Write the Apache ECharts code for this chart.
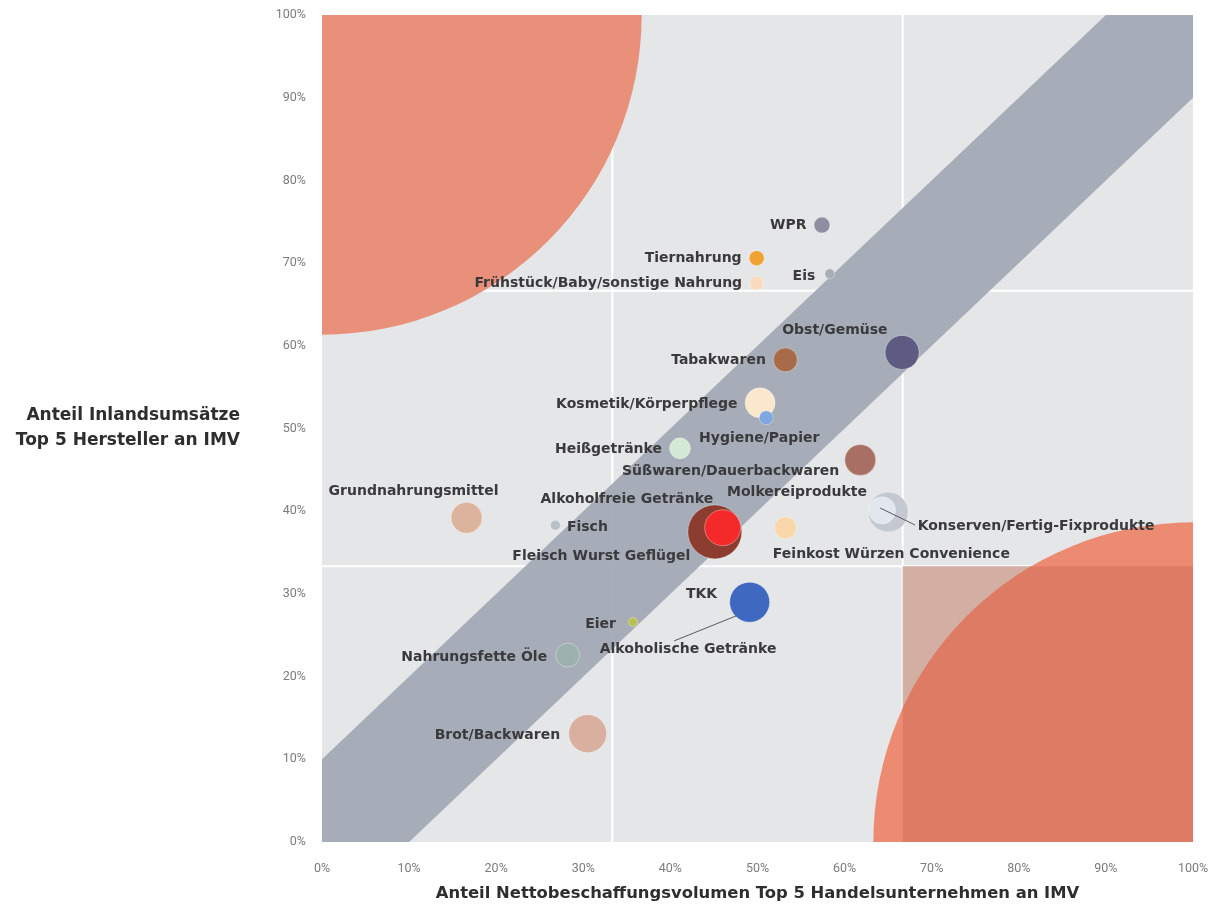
<!DOCTYPE html>
<html>
<head>
<meta charset="utf-8">
<script src="https://cdn.jsdelivr.net/npm/echarts@6/dist/echarts.min.js"></script>
<style>
  html, body { margin: 0; background: #fff; }
  #main { width: 1227px; height: 917px; }
</style>
</head>
<body>
<div id="main"></div>
<script>
// Warengruppen: Anteil Top 5 Handel (x) vs. Anteil Top 5 Hersteller (y), Blasengröße = Volumen
var names = [
  'WPR', 'Tiernahrung', 'Frühstück/Baby/sonstige Nahrung', 'Eis', 'Obst/Gemüse',
  'Tabakwaren', 'Kosmetik/Körperpflege', 'Hygiene/Papier', 'Heißgetränke',
  'Süßwaren/Dauerbackwaren', 'Feinkost Würzen Convenience', 'Grundnahrungsmittel',
  'Fisch', 'Fleisch Wurst Geflügel', 'Alkoholfreie Getränke', 'TKK', 'Eier',
  'Nahrungsfette Öle', 'Brot/Backwaren', 'Molkereiprodukte'
];
var shareHandel = [57.4, 49.9, 49.9, 58.3, 66.6, 53.2, 50.3, 51.0, 41.1, 61.8, 53.2, 16.6, 26.8, 45.1, 46.0, 49.1, 35.7, 28.2, 30.5, 64.3];
var shareHersteller = [74.6, 70.6, 67.6, 68.7, 59.2, 58.3, 53.1, 51.3, 47.6, 46.2, 38.0, 39.2, 38.3, 37.5, 38.0, 29.0, 26.6, 22.6, 13.1, 40.1];
var volume = [16, 15, 14, 10, 34, 24, 30, 14, 21, 31, 22, 31, 10, 54, 36, 40, 9, 24, 38, 27];

// Gruppen mit Hinweislinie zur Beschriftung
var leaderNames = ['Alkoholische Getränke', 'Konserven/Fertig-Fixprodukte'];
var leaderHandel = [48.0, 65.0];
var leaderHersteller = [27.7, 39.9];
var leaderVolume = [6, 40];

var thirds = [100 / 3, 200 / 3];
var bandHalf = 10;       // Korridor um die Diagonale
var cornerRadius = 36.7; // Viertelkreise in den Ecken, in x-Einheiten

var colors = {
  'WPR': '#8e8ea2', 'Tiernahrung': '#f0a232', 'Frühstück/Baby/sonstige Nahrung': '#f9dcc0',
  'Eis': '#a9adb6', 'Obst/Gemüse': '#5d5b82', 'Tabakwaren': '#a86b4a',
  'Kosmetik/Körperpflege': '#fbe8cc', 'Hygiene/Papier': '#80a7e0', 'Heißgetränke': '#d5ead6',
  'Süßwaren/Dauerbackwaren': '#a87064', 'Feinkost Würzen Convenience': '#f8d7ab',
  'Grundnahrungsmittel': '#dcb49e', 'Fisch': '#b8c0cc', 'Fleisch Wurst Geflügel': '#8c3d30',
  'Alkoholfreie Getränke': '#f42a2a', 'TKK': '#3f68c0', 'Eier': '#b8c24a',
  'Nahrungsfette Öle': '#9db2ae', 'Brot/Backwaren': '#d9af9f', 'Molkereiprodukte': '#e2e6ed',
  'Alkoholische Getränke': '#6e5b86', 'Konserven/Fertig-Fixprodukte': '#c4c8d2'
};

var labelPlace = {
  'WPR': ['left', [-2, 0]],
  'Tiernahrung': ['left', [-2, 0]],
  'Frühstück/Baby/sonstige Nahrung': ['left', [-2, 0]],
  'Eis': ['left', [-4, 3]],
  'Obst/Gemüse': ['left', [8, -22]],
  'Tabakwaren': ['left', [-2, 1]],
  'Kosmetik/Körperpflege': ['left', [-2, 1]],
  'Hygiene/Papier': ['bottom', [-7, 1]],
  'Heißgetränke': ['left', [-2, 1]],
  'Süßwaren/Dauerbackwaren': ['left', [0, 11]],
  'Feinkost Würzen Convenience': ['bottom', [106, 3]],
  'Grundnahrungsmittel': ['top', [-53, 2]],
  'Fisch': ['right', [1, 2]],
  'Fleisch Wurst Geflügel': ['left', [8, 24]],
  'Alkoholfreie Getränke': ['left', [14, -28]],
  'TKK': ['left', [-7, -8]],
  'Eier': ['left', [-7, 2]],
  'Nahrungsfette Öle': ['left', [-3, 2]],
  'Brot/Backwaren': ['left', [-3, 2]],
  'Molkereiprodukte': ['top', [-85, 8]],
  'Alkoholische Getränke': ['bottom', [-52, 21]],
  'Konserven/Fertig-Fixprodukte': ['right', [4, 14]]
};
// Hinweislinien: Start- und Endversatz (px) relativ zum Datenpunkt
var leaderLine = [[[-4, 3], [-66, 28]], [[-8, -4], [27, 13]]];

var labelFont = { color: '#3a3a3c', fontWeight: 'bold', fontSize: 14, fontFamily: 'DejaVu Sans' };
var tickFont = { color: '#7c7c7c', fontSize: 12.5, fontFamily: 'Roboto' };
var titleFont = { color: '#2e2e30', fontWeight: 'bold', fontSize: 16.4, fontFamily: 'DejaVu Sans' };

function renderBackdrop(params, api) {
  var c = function (d) { return api.coord(d); };
  var R = api.size([cornerRadius, 0])[0];
  var children = [];

  thirds.forEach(function (t) {
    var a = c([t, 0]), b = c([t, 100]);
    children.push({ type: 'line', shape: { x1: a[0], y1: a[1], x2: b[0], y2: b[1] }, style: { stroke: '#ffffff', lineWidth: 2 } });
    a = c([0, t]); b = c([100, t]);
    children.push({ type: 'line', shape: { x1: a[0], y1: a[1], x2: b[0], y2: b[1] }, style: { stroke: '#ffffff', lineWidth: 2 } });
  });

  var band = [[0, 0], [0, bandHalf], [100 - bandHalf, 100], [100, 100], [100, 100 - bandHalf], [bandHalf, 0]].map(c);
  children.push({ type: 'polygon', shape: { points: band }, style: { fill: '#a3aab6', opacity: 0.96 } });

  var tl = c([0, 100]);
  children.push({ type: 'sector', shape: { cx: tl[0], cy: tl[1], r0: 0, r: R, startAngle: 0, endAngle: Math.PI / 2 }, style: { fill: '#e8907a' } });

  var cell = c([thirds[1], thirds[0]]);
  var br = c([100, 0]);
  children.push({ type: 'rect', shape: { x: cell[0], y: cell[1], width: br[0] - cell[0], height: br[1] - cell[1] }, style: { fill: '#d3aea2' } });
  children.push({ type: 'sector', shape: { cx: br[0], cy: br[1], r0: 0, r: R, startAngle: Math.PI, endAngle: Math.PI * 1.5 }, style: { fill: '#ec8b72' } });

  // dunklerer Teil des Kreises innerhalb der Ecke
  var dx1 = cell[0] - br[0];
  var dy2 = cell[1] - br[1];
  var t1 = Math.atan2(-Math.sqrt(Math.max(R * R - dx1 * dx1, 0)), dx1);
  var t2 = Math.atan2(dy2, -Math.sqrt(Math.max(R * R - dy2 * dy2, 0)));
  var pts = [[br[0], br[1]], [cell[0], br[1]]];
  for (var i = 0; i <= 40; i++) {
    var t = t1 + (t2 - t1) * i / 40;
    pts.push([br[0] + R * Math.cos(t), br[1] + R * Math.sin(t)]);
  }
  pts.push([br[0], cell[1]]);
  children.push({ type: 'polygon', shape: { points: pts }, style: { fill: '#de7b65' } });

  return { type: 'group', children: children };
}

function renderLeader(params, api) {
  var p = api.coord([api.value(0), api.value(1)]);
  var seg = leaderLine[params.dataIndex];
  return {
    type: 'line',
    shape: { x1: p[0] + seg[0][0], y1: p[1] + seg[0][1], x2: p[0] + seg[1][0], y2: p[1] + seg[1][1] },
    style: { stroke: '#4a4a4c', lineWidth: 0.9 }
  };
}

function toItem(n, x, y, v) {
  var lp = labelPlace[n];
  return {
    name: n,
    value: [x, y, v],
    itemStyle: { color: colors[n] },
    label: { position: lp[0], offset: lp[1] }
  };
}

var mainData = names.map(function (n, i) { return toItem(n, shareHandel[i], shareHersteller[i], volume[i]); });
var leaderData = leaderNames.map(function (n, i) { return toItem(n, leaderHandel[i], leaderHersteller[i], leaderVolume[i]); });

var bubbleStyle = { opacity: 1, borderColor: 'rgba(255,255,255,0.35)', borderWidth: 1 };

var chart = echarts.init(document.getElementById('main'));
chart.setOption({
  backgroundColor: '#ffffff',
  animation: false,
  grid: {
    left: 322, right: 34, top: 15, bottom: 75,
    show: true, backgroundColor: '#e5e6e8', borderWidth: 0
  },
  xAxis: {
    type: 'value', min: 0, max: 100, interval: 10,
    name: 'Anteil Nettobeschaffungsvolumen Top 5 Handelsunternehmen an IMV',
    nameLocation: 'middle', nameGap: 44,
    nameTextStyle: titleFont,
    axisLine: { show: false }, axisTick: { show: false }, splitLine: { show: false },
    axisLabel: Object.assign({ formatter: '{value}%', margin: 20 }, tickFont)
  },
  yAxis: {
    type: 'value', min: 0, max: 100, interval: 10,
    name: 'Anteil Inlandsumsätze\nTop 5 Hersteller an IMV',
    nameLocation: 'middle', nameGap: 82, nameRotate: 0,
    nameTextStyle: Object.assign({ align: 'right', lineHeight: 25, padding: [18, 0, 0, 0] }, titleFont, { fontSize: 17 }),
    axisLine: { show: false }, axisTick: { show: false }, splitLine: { show: false },
    axisLabel: Object.assign({ formatter: '{value}%', margin: 16 }, tickFont)
  },
  series: [
    {
      type: 'custom', name: 'Hintergrund', silent: true, z: 1,
      renderItem: renderBackdrop,
      data: [[0, 0]]
    },
    {
      type: 'scatter', name: 'Hinweis', z: 2,
      symbolSize: function (v) { return v[2]; },
      itemStyle: bubbleStyle,
      label: Object.assign({ show: true, formatter: '{b}' }, labelFont),
      data: leaderData
    },
    {
      type: 'scatter', name: 'Warengruppen', z: 3,
      symbolSize: function (v) { return v[2]; },
      itemStyle: bubbleStyle,
      label: Object.assign({ show: true, formatter: '{b}', distance: 5 }, labelFont),
      data: mainData
    },
    {
      type: 'custom', name: 'Hinweislinien', silent: true, z: 4,
      renderItem: renderLeader,
      data: leaderHandel.map(function (x, i) { return [x, leaderHersteller[i]]; })
    }
  ]
});
</script>
</body>
</html>
